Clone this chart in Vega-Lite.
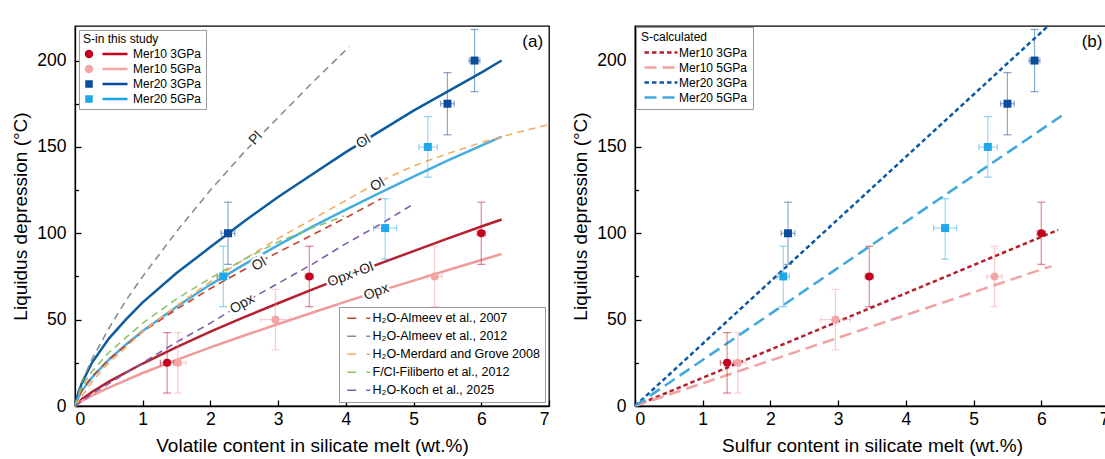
{
  "$schema": "https://vega.github.io/schema/vega-lite/v6.json",
  "padding": {"left": 11, "top": 20, "right": 0, "bottom": 0},
  "background": "white",
  "spacing": 18,
  "config": {
    "font": "Liberation Sans",
    "view": {"stroke": "black", "strokeWidth": 1.3},
    "axis": {"grid": false, "domainColor": "black", "domainWidth": 1.3, "tickColor": "black", "tickWidth": 1.3, "labelFont": "Liberation Sans", "labelFontSize": 17.5, "labelColor": "black", "titleFont": "Liberation Sans", "titleFontSize": 19, "titleFontWeight": "normal", "titleColor": "black"},
    "legend": {"labelFont": "Liberation Sans", "titleFont": "Liberation Sans", "labelColor": "black", "titleColor": "black", "labelLimit": 300}
  },
  "resolve": {
    "scale": {"color": "independent", "fill": "independent", "stroke": "independent", "shape": "independent", "strokeDash": "independent"},
    "legend": {"color": "independent", "fill": "independent", "stroke": "independent", "shape": "independent", "strokeDash": "independent"}
  },
  "datasets": {
    "pts": [
      {"series": "Mer10 3GPa", "x": 1.36, "y": 25, "xlo": 1.26, "xhi": 1.46, "ylo": 7.5, "yhi": 42.5},
      {"series": "Mer10 3GPa", "x": 3.46, "y": 75, "xlo": 3.4, "xhi": 3.52, "ylo": 57.5, "yhi": 92.5},
      {"series": "Mer10 3GPa", "x": 6.0, "y": 100, "xlo": 5.94, "xhi": 6.06, "ylo": 82, "yhi": 118},
      {"series": "Mer10 5GPa", "x": 1.52, "y": 25, "xlo": 1.4, "xhi": 1.64, "ylo": 7.5, "yhi": 42.5},
      {"series": "Mer10 5GPa", "x": 2.96, "y": 50, "xlo": 2.74, "xhi": 3.18, "ylo": 32.5, "yhi": 67.5},
      {"series": "Mer10 5GPa", "x": 5.31, "y": 75, "xlo": 5.2, "xhi": 5.42, "ylo": 57.5, "yhi": 92.5},
      {"series": "Mer20 3GPa", "x": 2.26, "y": 100, "xlo": 2.16, "xhi": 2.36, "ylo": 82, "yhi": 118},
      {"series": "Mer20 3GPa", "x": 5.5, "y": 175, "xlo": 5.4, "xhi": 5.6, "ylo": 157, "yhi": 193},
      {"series": "Mer20 3GPa", "x": 5.9, "y": 200, "xlo": 5.82, "xhi": 5.98, "ylo": 182, "yhi": 218},
      {"series": "Mer20 5GPa", "x": 2.19, "y": 75, "xlo": 2.1, "xhi": 2.28, "ylo": 57.5, "yhi": 92.5},
      {"series": "Mer20 5GPa", "x": 4.58, "y": 103, "xlo": 4.41, "xhi": 4.75, "ylo": 85, "yhi": 120},
      {"series": "Mer20 5GPa", "x": 5.21, "y": 150, "xlo": 5.08, "xhi": 5.35, "ylo": 132.5, "yhi": 167.5}
    ],
    "model": [
      {"series": "Mer10 3GPa", "x": 0, "y": 0}, {"series": "Mer10 3GPa", "x": 0.1, "y": 3.9}, {"series": "Mer10 3GPa", "x": 0.25, "y": 8.1}, {"series": "Mer10 3GPa", "x": 0.5, "y": 14.1}, {"series": "Mer10 3GPa", "x": 1, "y": 24.6}, {"series": "Mer10 3GPa", "x": 1.5, "y": 34.1}, {"series": "Mer10 3GPa", "x": 2, "y": 43}, {"series": "Mer10 3GPa", "x": 2.5, "y": 51.4}, {"series": "Mer10 3GPa", "x": 3, "y": 59.5}, {"series": "Mer10 3GPa", "x": 3.5, "y": 67.4}, {"series": "Mer10 3GPa", "x": 4, "y": 75}, {"series": "Mer10 3GPa", "x": 4.5, "y": 82.4}, {"series": "Mer10 3GPa", "x": 5, "y": 89.7}, {"series": "Mer10 3GPa", "x": 5.5, "y": 96.9}, {"series": "Mer10 3GPa", "x": 6, "y": 103.9}, {"series": "Mer10 3GPa", "x": 6.3, "y": 108},
      {"series": "Mer10 5GPa", "x": 0, "y": 0}, {"series": "Mer10 5GPa", "x": 0.1, "y": 2.8}, {"series": "Mer10 5GPa", "x": 0.25, "y": 6}, {"series": "Mer10 5GPa", "x": 0.5, "y": 10.7}, {"series": "Mer10 5GPa", "x": 1, "y": 19.1}, {"series": "Mer10 5GPa", "x": 1.5, "y": 26.7}, {"series": "Mer10 5GPa", "x": 2, "y": 33.9}, {"series": "Mer10 5GPa", "x": 2.5, "y": 40.8}, {"series": "Mer10 5GPa", "x": 3, "y": 47.5}, {"series": "Mer10 5GPa", "x": 3.5, "y": 54}, {"series": "Mer10 5GPa", "x": 4, "y": 60.4}, {"series": "Mer10 5GPa", "x": 4.5, "y": 66.6}, {"series": "Mer10 5GPa", "x": 5, "y": 72.6}, {"series": "Mer10 5GPa", "x": 5.5, "y": 78.6}, {"series": "Mer10 5GPa", "x": 6, "y": 84.5}, {"series": "Mer10 5GPa", "x": 6.3, "y": 88},
      {"series": "Mer20 3GPa", "x": 0, "y": 0}, {"series": "Mer20 3GPa", "x": 0.05, "y": 8}, {"series": "Mer20 3GPa", "x": 0.1, "y": 13}, {"series": "Mer20 3GPa", "x": 0.25, "y": 25}, {"series": "Mer20 3GPa", "x": 0.5, "y": 39}, {"series": "Mer20 3GPa", "x": 0.75, "y": 50}, {"series": "Mer20 3GPa", "x": 1, "y": 60}, {"series": "Mer20 3GPa", "x": 1.5, "y": 77}, {"series": "Mer20 3GPa", "x": 2, "y": 92}, {"series": "Mer20 3GPa", "x": 2.5, "y": 107}, {"series": "Mer20 3GPa", "x": 3, "y": 121}, {"series": "Mer20 3GPa", "x": 3.5, "y": 134}, {"series": "Mer20 3GPa", "x": 4, "y": 147}, {"series": "Mer20 3GPa", "x": 4.5, "y": 159}, {"series": "Mer20 3GPa", "x": 5, "y": 171}, {"series": "Mer20 3GPa", "x": 5.5, "y": 182}, {"series": "Mer20 3GPa", "x": 6, "y": 193}, {"series": "Mer20 3GPa", "x": 6.3, "y": 200},
      {"series": "Mer20 5GPa", "x": 0, "y": 0}, {"series": "Mer20 5GPa", "x": 0.05, "y": 5}, {"series": "Mer20 5GPa", "x": 0.1, "y": 8.8}, {"series": "Mer20 5GPa", "x": 0.25, "y": 16.5}, {"series": "Mer20 5GPa", "x": 0.5, "y": 26.8}, {"series": "Mer20 5GPa", "x": 0.75, "y": 35.5}, {"series": "Mer20 5GPa", "x": 1, "y": 43.4}, {"series": "Mer20 5GPa", "x": 1.5, "y": 57.5}, {"series": "Mer20 5GPa", "x": 2, "y": 70.3}, {"series": "Mer20 5GPa", "x": 2.5, "y": 82}, {"series": "Mer20 5GPa", "x": 3, "y": 93.1}, {"series": "Mer20 5GPa", "x": 3.5, "y": 103.7}, {"series": "Mer20 5GPa", "x": 4, "y": 113.7}, {"series": "Mer20 5GPa", "x": 4.5, "y": 123.4}, {"series": "Mer20 5GPa", "x": 5, "y": 132.8}, {"series": "Mer20 5GPa", "x": 5.5, "y": 142}, {"series": "Mer20 5GPa", "x": 6, "y": 150.8}, {"series": "Mer20 5GPa", "x": 6.3, "y": 156}
    ],
    "lit": [
      {"ref": "H₂O-Almeev et al., 2007", "x": 0, "y": 0}, {"ref": "H₂O-Almeev et al., 2007", "x": 0.1, "y": 9}, {"ref": "H₂O-Almeev et al., 2007", "x": 0.25, "y": 17}, {"ref": "H₂O-Almeev et al., 2007", "x": 0.5, "y": 27}, {"ref": "H₂O-Almeev et al., 2007", "x": 1, "y": 43}, {"ref": "H₂O-Almeev et al., 2007", "x": 1.5, "y": 56}, {"ref": "H₂O-Almeev et al., 2007", "x": 2, "y": 68}, {"ref": "H₂O-Almeev et al., 2007", "x": 2.5, "y": 79}, {"ref": "H₂O-Almeev et al., 2007", "x": 3, "y": 89}, {"ref": "H₂O-Almeev et al., 2007", "x": 3.5, "y": 99}, {"ref": "H₂O-Almeev et al., 2007", "x": 4, "y": 109}, {"ref": "H₂O-Almeev et al., 2007", "x": 4.52, "y": 120},
      {"ref": "H₂O-Almeev et al., 2012", "x": 0, "y": 0}, {"ref": "H₂O-Almeev et al., 2012", "x": 0.1, "y": 14}, {"ref": "H₂O-Almeev et al., 2012", "x": 0.25, "y": 27}, {"ref": "H₂O-Almeev et al., 2012", "x": 0.5, "y": 45}, {"ref": "H₂O-Almeev et al., 2012", "x": 0.75, "y": 61}, {"ref": "H₂O-Almeev et al., 2012", "x": 1, "y": 75}, {"ref": "H₂O-Almeev et al., 2012", "x": 1.5, "y": 101}, {"ref": "H₂O-Almeev et al., 2012", "x": 2, "y": 125}, {"ref": "H₂O-Almeev et al., 2012", "x": 2.5, "y": 147}, {"ref": "H₂O-Almeev et al., 2012", "x": 3, "y": 167}, {"ref": "H₂O-Almeev et al., 2012", "x": 3.5, "y": 187}, {"ref": "H₂O-Almeev et al., 2012", "x": 4.05, "y": 208},
      {"ref": "H₂O-Merdard and Grove 2008", "x": 0, "y": 0}, {"ref": "H₂O-Merdard and Grove 2008", "x": 0.25, "y": 14}, {"ref": "H₂O-Merdard and Grove 2008", "x": 0.5, "y": 25}, {"ref": "H₂O-Merdard and Grove 2008", "x": 1, "y": 43}, {"ref": "H₂O-Merdard and Grove 2008", "x": 1.5, "y": 58}, {"ref": "H₂O-Merdard and Grove 2008", "x": 2, "y": 72}, {"ref": "H₂O-Merdard and Grove 2008", "x": 2.5, "y": 85}, {"ref": "H₂O-Merdard and Grove 2008", "x": 3, "y": 97}, {"ref": "H₂O-Merdard and Grove 2008", "x": 3.5, "y": 108}, {"ref": "H₂O-Merdard and Grove 2008", "x": 4, "y": 119}, {"ref": "H₂O-Merdard and Grove 2008", "x": 4.5, "y": 130}, {"ref": "H₂O-Merdard and Grove 2008", "x": 5, "y": 139}, {"ref": "H₂O-Merdard and Grove 2008", "x": 5.5, "y": 146}, {"ref": "H₂O-Merdard and Grove 2008", "x": 6, "y": 152.5}, {"ref": "H₂O-Merdard and Grove 2008", "x": 6.5, "y": 158}, {"ref": "H₂O-Merdard and Grove 2008", "x": 7, "y": 163},
      {"ref": "F/Cl-Filiberto et al., 2012", "x": 0, "y": 0}, {"ref": "F/Cl-Filiberto et al., 2012", "x": 0.1, "y": 11}, {"ref": "F/Cl-Filiberto et al., 2012", "x": 0.25, "y": 20}, {"ref": "F/Cl-Filiberto et al., 2012", "x": 0.5, "y": 31}, {"ref": "F/Cl-Filiberto et al., 2012", "x": 1, "y": 48}, {"ref": "F/Cl-Filiberto et al., 2012", "x": 1.5, "y": 62}, {"ref": "F/Cl-Filiberto et al., 2012", "x": 2, "y": 74}, {"ref": "F/Cl-Filiberto et al., 2012", "x": 2.5, "y": 85}, {"ref": "F/Cl-Filiberto et al., 2012", "x": 3, "y": 95}, {"ref": "F/Cl-Filiberto et al., 2012", "x": 3.5, "y": 103}, {"ref": "F/Cl-Filiberto et al., 2012", "x": 3.97, "y": 110},
      {"ref": "H₂O-Koch et al., 2025", "x": 0, "y": 0}, {"ref": "H₂O-Koch et al., 2025", "x": 0.25, "y": 7}, {"ref": "H₂O-Koch et al., 2025", "x": 0.5, "y": 13}, {"ref": "H₂O-Koch et al., 2025", "x": 1, "y": 25}, {"ref": "H₂O-Koch et al., 2025", "x": 1.5, "y": 37}, {"ref": "H₂O-Koch et al., 2025", "x": 2, "y": 48}, {"ref": "H₂O-Koch et al., 2025", "x": 2.5, "y": 60}, {"ref": "H₂O-Koch et al., 2025", "x": 3, "y": 71}, {"ref": "H₂O-Koch et al., 2025", "x": 3.5, "y": 82}, {"ref": "H₂O-Koch et al., 2025", "x": 4, "y": 94}, {"ref": "H₂O-Koch et al., 2025", "x": 4.5, "y": 105}, {"ref": "H₂O-Koch et al., 2025", "x": 5, "y": 117}
    ],
    "calc": [
      {"series": "Mer10 3GPa", "x": 0, "y": 0}, {"series": "Mer10 3GPa", "x": 6.25, "y": 102},
      {"series": "Mer10 5GPa", "x": 0, "y": 0}, {"series": "Mer10 5GPa", "x": 6.15, "y": 81},
      {"series": "Mer20 3GPa", "x": 0, "y": 0}, {"series": "Mer20 3GPa", "x": 6.1, "y": 220},
      {"series": "Mer20 5GPa", "x": 0, "y": 0}, {"series": "Mer20 5GPa", "x": 6.3, "y": 168}
    ],
    "clabels": [
      {"label": "Pl", "curve": "Almeev 2012", "x": 2.67, "y": 155},
      {"label": "Ol", "curve": "Mer20 3GPa", "x": 4.26, "y": 153},
      {"label": "Ol", "curve": "Medard 2008", "x": 4.47, "y": 128},
      {"label": "Ol", "curve": "Mer20 5GPa", "x": 2.72, "y": 82},
      {"label": "Opx", "curve": "Koch 2025", "x": 2.47, "y": 59},
      {"label": "Opx+Ol", "curve": "Mer10 3GPa", "x": 4.07, "y": 76},
      {"label": "Opx", "curve": "Mer10 5GPa", "x": 4.45, "y": 66}
    ]
  },
  "hconcat": [
    {
      "width": 474,
      "height": 380,
      "layer": [
        {
          "data": {"name": "pts"},
          "mark": {"type": "point", "filled": true, "opacity": 0},
          "encoding": {
            "x": {"field": "x", "type": "quantitative", "scale": {"domain": [0, 7]}, "title": "Volatile content in silicate melt (wt.%)", "axis": {"values": [0, 0.5, 1, 1.5, 2, 2.5, 3, 3.5, 4, 4.5, 5, 5.5, 6, 6.5, 7], "format": "d", "labelExpr": "datum.value % 1 === 0 ? datum.label : ''", "tickSize": {"condition": {"test": "datum.value % 1 !== 0", "value": -3.5}, "value": -6}, "labelPadding": 10, "titlePadding": 9}},
            "y": {"field": "y", "type": "quantitative", "scale": {"domain": [0, 220]}, "title": "Liquidus depression (°C)", "axis": {"values": [0, 25, 50, 75, 100, 125, 150, 175, 200], "format": "d", "labelExpr": "datum.value % 50 === 0 ? datum.label : ''", "tickSize": {"condition": {"test": "datum.value % 50 !== 0", "value": -3.5}, "value": -6}, "labelPadding": 15, "titlePadding": 6}},
            "shape": {"field": "series", "type": "nominal", "scale": {"domain": ["Mer10 3GPa", "Mer10 5GPa", "Mer20 3GPa", "Mer20 5GPa"], "range": ["M -0.85 0 A 0.85 0.85 0 1 0 0.85 0 A 0.85 0.85 0 1 0 -0.85 0 Z M 2.7 -0.24 L 7.7 -0.24 L 7.7 0.24 L 2.7 0.24 Z", "M -0.85 0 A 0.85 0.85 0 1 0 0.85 0 A 0.85 0.85 0 1 0 -0.85 0 Z M 2.7 -0.24 L 7.7 -0.24 L 7.7 0.24 L 2.7 0.24 Z", "M -0.75 -0.75 L 0.75 -0.75 L 0.75 0.75 L -0.75 0.75 Z M 2.7 -0.24 L 7.7 -0.24 L 7.7 0.24 L 2.7 0.24 Z", "M -0.75 -0.75 L 0.75 -0.75 L 0.75 0.75 L -0.75 0.75 Z M 2.7 -0.24 L 7.7 -0.24 L 7.7 0.24 L 2.7 0.24 Z"]},
              "legend": {"orient": "top-left", "offset": 4, "title": "S-in this study", "titleFontSize": 12, "titleFontWeight": "normal", "titlePadding": 2, "labelFontSize": 12, "labelOffset": 38, "symbolSize": 100, "symbolOpacity": 1, "symbolStrokeWidth": 0, "rowPadding": 3, "strokeColor": "#999", "fillColor": "white", "padding": 4}},
            "fill": {"field": "series", "type": "nominal", "scale": {"domain": ["Mer10 3GPa", "Mer10 5GPa", "Mer20 3GPa", "Mer20 5GPa"], "range": ["#c4001f", "#f4a6a6", "#0b4a9c", "#1ea6e6"]},
              "legend": {"orient": "top-left", "offset": 4, "title": "S-in this study", "titleFontSize": 12, "titleFontWeight": "normal", "titlePadding": 2, "labelFontSize": 12, "labelOffset": 38, "symbolSize": 100, "symbolOpacity": 1, "symbolStrokeWidth": 0, "rowPadding": 3, "strokeColor": "#999", "fillColor": "white", "padding": 4}}
          }
        },
        {
          "data": {"name": "model"},
          "mark": {"type": "line", "strokeWidth": 2.5},
          "encoding": {
            "x": {"field": "x", "type": "quantitative", "scale": {"domain": [0, 7]}, "title": "Volatile content in silicate melt (wt.%)"},
            "y": {"field": "y", "type": "quantitative", "scale": {"domain": [0, 220]}, "title": "Liquidus depression (°C)"},
            "stroke": {"field": "series", "type": "nominal", "scale": {"range": ["#b5202e", "#f19a9a", "#0d5c9e", "#45ade0"]}, "legend": null}
          }
        },
        {
          "data": {"name": "lit"},
          "mark": {"type": "line", "strokeWidth": 1.6, "strokeDash": [7, 5]},
          "encoding": {
            "x": {"field": "x", "type": "quantitative", "scale": {"domain": [0, 7]}, "title": "Volatile content in silicate melt (wt.%)"},
            "y": {"field": "y", "type": "quantitative", "scale": {"domain": [0, 220]}, "title": "Liquidus depression (°C)"},
            "color": {"field": "ref", "type": "nominal", "sort": null, "scale": {"domain": ["H₂O-Almeev et al., 2007", "H₂O-Almeev et al., 2012", "H₂O-Merdard and Grove 2008", "F/Cl-Filiberto et al., 2012", "H₂O-Koch et al., 2025"], "range": ["#c8412f", "#8c8c8c", "#f7ad66", "#8dc26a", "#7e5fa8"]},
              "legend": {"orient": "bottom-right", "offset": 4, "title": null, "symbolType": "M -0.6 0 L 4 0", "symbolDash": [9, 10], "symbolSize": 100, "symbolStrokeWidth": 1.6, "labelFontSize": 12.5, "labelOffset": 16, "rowPadding": 5, "strokeColor": "#999", "fillColor": "white", "padding": 5}}
          }
        },
        {
          "data": {"name": "pts"},
          "mark": {"type": "rule", "strokeWidth": 1.2, "opacity": 0.5},
          "encoding": {
            "x": {"field": "x", "type": "quantitative", "scale": {"domain": [0, 7]}, "title": "Volatile content in silicate melt (wt.%)"},
            "y": {"field": "ylo", "type": "quantitative", "scale": {"domain": [0, 220]}, "title": "Liquidus depression (°C)"},
            "y2": {"field": "yhi"},
            "stroke": {"field": "series", "type": "nominal", "scale": {"range": ["#b5202e", "#f19a9a", "#0d5c9e", "#45ade0"]}, "legend": null}
          }
        },
        {
          "data": {"name": "pts"},
          "mark": {"type": "rule", "strokeWidth": 1.2, "opacity": 0.5},
          "encoding": {
            "x": {"field": "xlo", "type": "quantitative", "scale": {"domain": [0, 7]}, "title": "Volatile content in silicate melt (wt.%)"},
            "x2": {"field": "xhi"},
            "y": {"field": "y", "type": "quantitative", "scale": {"domain": [0, 220]}, "title": "Liquidus depression (°C)"},
            "stroke": {"field": "series", "type": "nominal", "scale": {"range": ["#b5202e", "#f19a9a", "#0d5c9e", "#45ade0"]}, "legend": null}
          }
        },
        {
          "data": {"name": "pts"},
          "mark": {"type": "tick", "orient": "horizontal", "size": 8, "thickness": 1.2, "opacity": 0.5},
          "encoding": {
            "x": {"field": "x", "type": "quantitative", "scale": {"domain": [0, 7]}, "title": "Volatile content in silicate melt (wt.%)"},
            "y": {"field": "ylo", "type": "quantitative", "scale": {"domain": [0, 220]}, "title": "Liquidus depression (°C)"},
            "fill": {"field": "series", "type": "nominal", "scale": {"domain": ["Mer10 3GPa", "Mer10 5GPa", "Mer20 3GPa", "Mer20 5GPa"], "range": ["#c4001f", "#f4a6a6", "#0b4a9c", "#1ea6e6"]},
              "legend": {"orient": "top-left", "offset": 4, "title": "S-in this study", "titleFontSize": 12, "titleFontWeight": "normal", "titlePadding": 2, "labelFontSize": 12, "labelOffset": 38, "symbolSize": 100, "symbolOpacity": 1, "symbolStrokeWidth": 0, "rowPadding": 3, "strokeColor": "#999", "fillColor": "white", "padding": 4}}
          }
        },
        {
          "data": {"name": "pts"},
          "mark": {"type": "tick", "orient": "horizontal", "size": 8, "thickness": 1.2, "opacity": 0.5},
          "encoding": {
            "x": {"field": "x", "type": "quantitative", "scale": {"domain": [0, 7]}, "title": "Volatile content in silicate melt (wt.%)"},
            "y": {"field": "yhi", "type": "quantitative", "scale": {"domain": [0, 220]}, "title": "Liquidus depression (°C)"},
            "fill": {"field": "series", "type": "nominal", "scale": {"domain": ["Mer10 3GPa", "Mer10 5GPa", "Mer20 3GPa", "Mer20 5GPa"], "range": ["#c4001f", "#f4a6a6", "#0b4a9c", "#1ea6e6"]},
              "legend": {"orient": "top-left", "offset": 4, "title": "S-in this study", "titleFontSize": 12, "titleFontWeight": "normal", "titlePadding": 2, "labelFontSize": 12, "labelOffset": 38, "symbolSize": 100, "symbolOpacity": 1, "symbolStrokeWidth": 0, "rowPadding": 3, "strokeColor": "#999", "fillColor": "white", "padding": 4}}
          }
        },
        {
          "data": {"name": "pts"},
          "mark": {"type": "tick", "orient": "vertical", "size": 6, "thickness": 1.2, "opacity": 0.5},
          "encoding": {
            "x": {"field": "xlo", "type": "quantitative", "scale": {"domain": [0, 7]}, "title": "Volatile content in silicate melt (wt.%)"},
            "y": {"field": "y", "type": "quantitative", "scale": {"domain": [0, 220]}, "title": "Liquidus depression (°C)"},
            "fill": {"field": "series", "type": "nominal", "scale": {"domain": ["Mer10 3GPa", "Mer10 5GPa", "Mer20 3GPa", "Mer20 5GPa"], "range": ["#c4001f", "#f4a6a6", "#0b4a9c", "#1ea6e6"]},
              "legend": {"orient": "top-left", "offset": 4, "title": "S-in this study", "titleFontSize": 12, "titleFontWeight": "normal", "titlePadding": 2, "labelFontSize": 12, "labelOffset": 38, "symbolSize": 100, "symbolOpacity": 1, "symbolStrokeWidth": 0, "rowPadding": 3, "strokeColor": "#999", "fillColor": "white", "padding": 4}}
          }
        },
        {
          "data": {"name": "pts"},
          "mark": {"type": "tick", "orient": "vertical", "size": 6, "thickness": 1.2, "opacity": 0.5},
          "encoding": {
            "x": {"field": "xhi", "type": "quantitative", "scale": {"domain": [0, 7]}, "title": "Volatile content in silicate melt (wt.%)"},
            "y": {"field": "y", "type": "quantitative", "scale": {"domain": [0, 220]}, "title": "Liquidus depression (°C)"},
            "fill": {"field": "series", "type": "nominal", "scale": {"domain": ["Mer10 3GPa", "Mer10 5GPa", "Mer20 3GPa", "Mer20 5GPa"], "range": ["#c4001f", "#f4a6a6", "#0b4a9c", "#1ea6e6"]},
              "legend": {"orient": "top-left", "offset": 4, "title": "S-in this study", "titleFontSize": 12, "titleFontWeight": "normal", "titlePadding": 2, "labelFontSize": 12, "labelOffset": 38, "symbolSize": 100, "symbolOpacity": 1, "symbolStrokeWidth": 0, "rowPadding": 3, "strokeColor": "#999", "fillColor": "white", "padding": 4}}
          }
        },
        {
          "data": {"name": "pts"},
          "transform": [{"filter": "indexof(datum.series, 'Mer10') === 0"}],
          "mark": {"type": "point", "shape": "circle", "filled": true, "opacity": 1, "size": 65},
          "encoding": {
            "x": {"field": "x", "type": "quantitative", "scale": {"domain": [0, 7]}, "title": "Volatile content in silicate melt (wt.%)"},
            "y": {"field": "y", "type": "quantitative", "scale": {"domain": [0, 220]}, "title": "Liquidus depression (°C)"},
            "fill": {"field": "series", "type": "nominal", "scale": {"domain": ["Mer10 3GPa", "Mer10 5GPa", "Mer20 3GPa", "Mer20 5GPa"], "range": ["#c4001f", "#f4a6a6", "#0b4a9c", "#1ea6e6"]},
              "legend": {"orient": "top-left", "offset": 4, "title": "S-in this study", "titleFontSize": 12, "titleFontWeight": "normal", "titlePadding": 2, "labelFontSize": 12, "labelOffset": 38, "symbolSize": 100, "symbolOpacity": 1, "symbolStrokeWidth": 0, "rowPadding": 3, "strokeColor": "#999", "fillColor": "white", "padding": 4}}
          }
        },
        {
          "data": {"name": "pts"},
          "transform": [{"filter": "indexof(datum.series, 'Mer20') === 0"}],
          "mark": {"type": "point", "shape": "square", "filled": true, "opacity": 1, "size": 64},
          "encoding": {
            "x": {"field": "x", "type": "quantitative", "scale": {"domain": [0, 7]}, "title": "Volatile content in silicate melt (wt.%)"},
            "y": {"field": "y", "type": "quantitative", "scale": {"domain": [0, 220]}, "title": "Liquidus depression (°C)"},
            "fill": {"field": "series", "type": "nominal", "scale": {"domain": ["Mer10 3GPa", "Mer10 5GPa", "Mer20 3GPa", "Mer20 5GPa"], "range": ["#c4001f", "#f4a6a6", "#0b4a9c", "#1ea6e6"]},
              "legend": {"orient": "top-left", "offset": 4, "title": "S-in this study", "titleFontSize": 12, "titleFontWeight": "normal", "titlePadding": 2, "labelFontSize": 12, "labelOffset": 38, "symbolSize": 100, "symbolOpacity": 1, "symbolStrokeWidth": 0, "rowPadding": 3, "strokeColor": "#999", "fillColor": "white", "padding": 4}}
          }
        },
        {
          "data": {"name": "clabels"},
          "transform": [{"filter": "datum.curve === 'Almeev 2012'"}],
          "mark": {"type": "text", "angle": 313, "fontSize": 14, "stroke": "white", "strokeWidth": 5, "fill": "white"},
          "encoding": {"x": {"field": "x", "type": "quantitative"}, "y": {"field": "y", "type": "quantitative"}, "text": {"field": "label"}}
        },
        {
          "data": {"name": "clabels"},
          "transform": [{"filter": "datum.curve === 'Almeev 2012'"}],
          "mark": {"type": "text", "angle": 313, "fontSize": 14, "fill": "#222"},
          "encoding": {"x": {"field": "x", "type": "quantitative"}, "y": {"field": "y", "type": "quantitative"}, "text": {"field": "label"}}
        },
        {
          "data": {"name": "clabels"},
          "transform": [{"filter": {"field": "curve", "oneOf": ["Mer20 3GPa", "Medard 2008", "Mer20 5GPa", "Koch 2025"]}}],
          "mark": {"type": "text", "angle": 330, "fontSize": 14, "stroke": "white", "strokeWidth": 5, "fill": "white"},
          "encoding": {"x": {"field": "x", "type": "quantitative"}, "y": {"field": "y", "type": "quantitative"}, "text": {"field": "label"}}
        },
        {
          "data": {"name": "clabels"},
          "transform": [{"filter": {"field": "curve", "oneOf": ["Mer20 3GPa", "Medard 2008", "Mer20 5GPa", "Koch 2025"]}}],
          "mark": {"type": "text", "angle": 330, "fontSize": 14, "fill": "#222"},
          "encoding": {"x": {"field": "x", "type": "quantitative"}, "y": {"field": "y", "type": "quantitative"}, "text": {"field": "label"}}
        },
        {
          "data": {"name": "clabels"},
          "transform": [{"filter": {"field": "curve", "oneOf": ["Mer10 3GPa", "Mer10 5GPa"]}}],
          "mark": {"type": "text", "angle": 340, "fontSize": 14, "stroke": "white", "strokeWidth": 5, "fill": "white"},
          "encoding": {"x": {"field": "x", "type": "quantitative"}, "y": {"field": "y", "type": "quantitative"}, "text": {"field": "label"}}
        },
        {
          "data": {"name": "clabels"},
          "transform": [{"filter": {"field": "curve", "oneOf": ["Mer10 3GPa", "Mer10 5GPa"]}}],
          "mark": {"type": "text", "angle": 340, "fontSize": 14, "fill": "#222"},
          "encoding": {"x": {"field": "x", "type": "quantitative"}, "y": {"field": "y", "type": "quantitative"}, "text": {"field": "label"}}
        },
        {
          "data": {"values": [{"t": "(a)"}]},
          "mark": {"type": "text", "fontSize": 17, "fill": "black"},
          "encoding": {"x": {"datum": 6.76}, "y": {"datum": 211}, "text": {"field": "t"}}
        }
      ]
    },
    {
      "width": 474,
      "height": 380,
      "layer": [
        {
          "data": {"name": "calc"},
          "mark": {"type": "line", "strokeWidth": 2.5},
          "encoding": {
            "x": {"field": "x", "type": "quantitative", "scale": {"domain": [0, 7]}, "title": "Sulfur content in silicate melt (wt.%)", "axis": {"values": [0, 0.5, 1, 1.5, 2, 2.5, 3, 3.5, 4, 4.5, 5, 5.5, 6, 6.5, 7], "format": "d", "labelExpr": "datum.value % 1 === 0 ? datum.label : ''", "tickSize": {"condition": {"test": "datum.value % 1 !== 0", "value": -3.5}, "value": -6}, "labelPadding": 10, "titlePadding": 9}},
            "y": {"field": "y", "type": "quantitative", "scale": {"domain": [0, 220]}, "title": "Liquidus depression (°C)", "axis": {"values": [0, 25, 50, 75, 100, 125, 150, 175, 200], "format": "d", "labelExpr": "datum.value % 50 === 0 ? datum.label : ''", "tickSize": {"condition": {"test": "datum.value % 50 !== 0", "value": -3.5}, "value": -6}, "labelPadding": 15, "titlePadding": 6}},
            "color": {"field": "series", "type": "nominal", "scale": {"domain": ["Mer10 3GPa", "Mer10 5GPa", "Mer20 3GPa", "Mer20 5GPa"], "range": ["#b3202e", "#f0a3a3", "#0b59a3", "#3fa9dd"]},
              "legend": {"orient": "top-left", "offset": 1, "title": "S-calculated", "titleFontSize": 12, "titleFontWeight": "normal", "titlePadding": 2, "labelFontSize": 12, "labelOffset": 25, "symbolType": "M -0.6 0 L 6 0", "symbolSize": 100, "symbolStrokeWidth": 2.5, "rowPadding": 2, "strokeColor": "#999", "fillColor": "white", "padding": 5}},
            "strokeDash": {"field": "series", "type": "nominal", "scale": {"domain": ["Mer10 3GPa", "Mer10 5GPa", "Mer20 3GPa", "Mer20 5GPa"], "range": [[4.5, 3], [12, 6], [4.5, 3], [12, 6]]},
              "legend": {"orient": "top-left", "offset": 1, "title": "S-calculated", "titleFontSize": 12, "titleFontWeight": "normal", "titlePadding": 2, "labelFontSize": 12, "labelOffset": 25, "symbolType": "M -0.6 0 L 6 0", "symbolSize": 100, "symbolStrokeWidth": 2.5, "rowPadding": 2, "strokeColor": "#999", "fillColor": "white", "padding": 5}}
          }
        },
        {
          "data": {"name": "pts"},
          "mark": {"type": "rule", "strokeWidth": 1.2, "opacity": 0.5},
          "encoding": {
            "x": {"field": "x", "type": "quantitative", "scale": {"domain": [0, 7]}, "title": "Sulfur content in silicate melt (wt.%)"},
            "y": {"field": "ylo", "type": "quantitative", "scale": {"domain": [0, 220]}, "title": "Liquidus depression (°C)"},
            "y2": {"field": "yhi"},
            "stroke": {"field": "series", "type": "nominal", "scale": {"range": ["#b5202e", "#f19a9a", "#0d5c9e", "#45ade0"]}, "legend": null}
          }
        },
        {
          "data": {"name": "pts"},
          "mark": {"type": "rule", "strokeWidth": 1.2, "opacity": 0.5},
          "encoding": {
            "x": {"field": "xlo", "type": "quantitative", "scale": {"domain": [0, 7]}, "title": "Sulfur content in silicate melt (wt.%)"},
            "x2": {"field": "xhi"},
            "y": {"field": "y", "type": "quantitative", "scale": {"domain": [0, 220]}, "title": "Liquidus depression (°C)"},
            "stroke": {"field": "series", "type": "nominal", "scale": {"range": ["#b5202e", "#f19a9a", "#0d5c9e", "#45ade0"]}, "legend": null}
          }
        },
        {
          "data": {"name": "pts"},
          "mark": {"type": "tick", "orient": "horizontal", "size": 8, "thickness": 1.2, "opacity": 0.5},
          "encoding": {
            "x": {"field": "x", "type": "quantitative", "scale": {"domain": [0, 7]}, "title": "Sulfur content in silicate melt (wt.%)"},
            "y": {"field": "ylo", "type": "quantitative", "scale": {"domain": [0, 220]}, "title": "Liquidus depression (°C)"},
            "fill": {"field": "series", "type": "nominal", "scale": {"range": ["#c4001f", "#f4a6a6", "#0b4a9c", "#1ea6e6"]}, "legend": null}
          }
        },
        {
          "data": {"name": "pts"},
          "mark": {"type": "tick", "orient": "horizontal", "size": 8, "thickness": 1.2, "opacity": 0.5},
          "encoding": {
            "x": {"field": "x", "type": "quantitative", "scale": {"domain": [0, 7]}, "title": "Sulfur content in silicate melt (wt.%)"},
            "y": {"field": "yhi", "type": "quantitative", "scale": {"domain": [0, 220]}, "title": "Liquidus depression (°C)"},
            "fill": {"field": "series", "type": "nominal", "scale": {"range": ["#c4001f", "#f4a6a6", "#0b4a9c", "#1ea6e6"]}, "legend": null}
          }
        },
        {
          "data": {"name": "pts"},
          "mark": {"type": "tick", "orient": "vertical", "size": 6, "thickness": 1.2, "opacity": 0.5},
          "encoding": {
            "x": {"field": "xlo", "type": "quantitative", "scale": {"domain": [0, 7]}, "title": "Sulfur content in silicate melt (wt.%)"},
            "y": {"field": "y", "type": "quantitative", "scale": {"domain": [0, 220]}, "title": "Liquidus depression (°C)"},
            "fill": {"field": "series", "type": "nominal", "scale": {"range": ["#c4001f", "#f4a6a6", "#0b4a9c", "#1ea6e6"]}, "legend": null}
          }
        },
        {
          "data": {"name": "pts"},
          "mark": {"type": "tick", "orient": "vertical", "size": 6, "thickness": 1.2, "opacity": 0.5},
          "encoding": {
            "x": {"field": "xhi", "type": "quantitative", "scale": {"domain": [0, 7]}, "title": "Sulfur content in silicate melt (wt.%)"},
            "y": {"field": "y", "type": "quantitative", "scale": {"domain": [0, 220]}, "title": "Liquidus depression (°C)"},
            "fill": {"field": "series", "type": "nominal", "scale": {"range": ["#c4001f", "#f4a6a6", "#0b4a9c", "#1ea6e6"]}, "legend": null}
          }
        },
        {
          "data": {"name": "pts"},
          "transform": [{"filter": "indexof(datum.series, 'Mer10') === 0"}],
          "mark": {"type": "point", "shape": "circle", "filled": true, "opacity": 1, "size": 65},
          "encoding": {
            "x": {"field": "x", "type": "quantitative", "scale": {"domain": [0, 7]}, "title": "Sulfur content in silicate melt (wt.%)"},
            "y": {"field": "y", "type": "quantitative", "scale": {"domain": [0, 220]}, "title": "Liquidus depression (°C)"},
            "fill": {"field": "series", "type": "nominal", "scale": {"range": ["#c4001f", "#f4a6a6", "#0b4a9c", "#1ea6e6"]}, "legend": null}
          }
        },
        {
          "data": {"name": "pts"},
          "transform": [{"filter": "indexof(datum.series, 'Mer20') === 0"}],
          "mark": {"type": "point", "shape": "square", "filled": true, "opacity": 1, "size": 64},
          "encoding": {
            "x": {"field": "x", "type": "quantitative", "scale": {"domain": [0, 7]}, "title": "Sulfur content in silicate melt (wt.%)"},
            "y": {"field": "y", "type": "quantitative", "scale": {"domain": [0, 220]}, "title": "Liquidus depression (°C)"},
            "fill": {"field": "series", "type": "nominal", "scale": {"range": ["#c4001f", "#f4a6a6", "#0b4a9c", "#1ea6e6"]}, "legend": null}
          }
        },
        {
          "data": {"values": [{"t": "(b)"}]},
          "mark": {"type": "text", "fontSize": 17, "fill": "black"},
          "encoding": {"x": {"datum": 6.75}, "y": {"datum": 211}, "text": {"field": "t"}}
        }
      ]
    }
  ]
}
